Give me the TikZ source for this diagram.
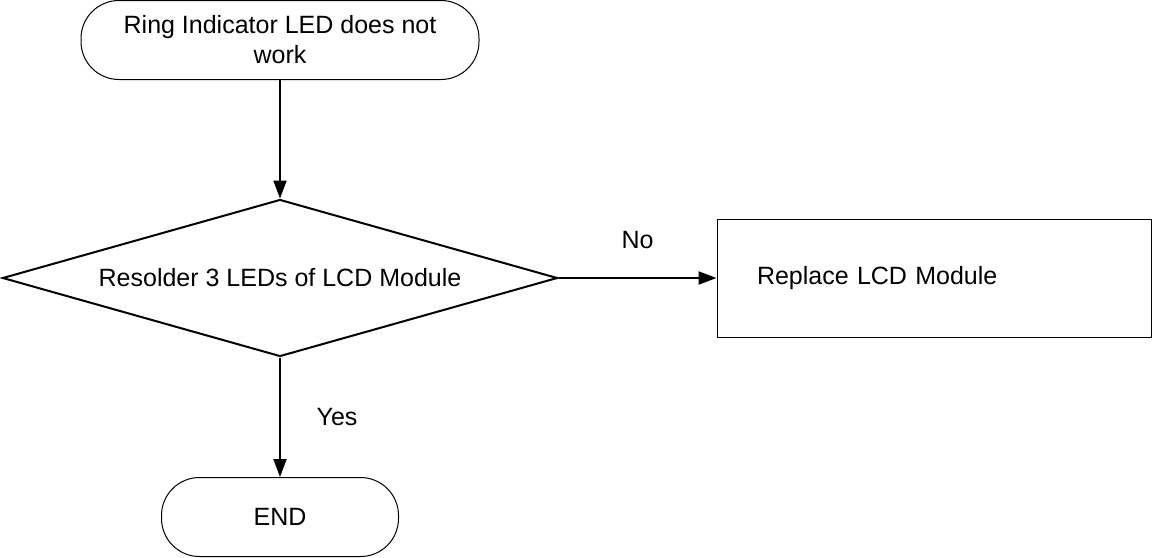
\documentclass[tikz,border=0pt]{standalone}
\usepackage{fontspec}
\setmainfont{Liberation Sans}
\usetikzlibrary{shapes.geometric,arrows.meta}

\begin{document}
\begin{tikzpicture}
  [x=0.5pt, y=-0.5pt,
   every node/.style={font=\fontsize{12.5}{15}\selectfont},
   term/.style={draw, line width=0.5pt, rounded corners=19pt, minimum width=199pt,
     minimum height=39.5pt, align=center, inner sep=0pt},
   test/.style={draw, diamond, line width=1pt, aspect=3.5, minimum width=277.5pt,
     minimum height=78.5pt, inner sep=0pt},
   act/.style={draw, line width=0.5pt, minimum width=217pt, minimum height=59pt,
     text width=177pt, align=left, inner xsep=20pt},
   lbl/.style={inner sep=0pt},
   flow/.style={-{Triangle[length=9pt,width=6.5pt]}, line width=1pt}]
  \useasboundingbox (0, 0) rectangle (1154, 557);
  \node[term] (n1) at (280, 40) {Ring Indicator LED does not\\work};
  \node[test] (n2) at (280, 278) {Resolder 3 LEDs of LCD Module};
  \node[act] (n3) at (934, 278) {Replace LCD Module};
  \node[term, minimum width=118.5pt] (n4) at (280, 517) {END};

  \draw[flow] (n1) -- (n2);
  \draw[flow] (n2) -- node[lbl, yshift=19pt] {No} (n3);
  \draw[flow] (n2) -- node[lbl, xshift=28.5pt] {Yes} (n4);
\end{tikzpicture}
\end{document}
